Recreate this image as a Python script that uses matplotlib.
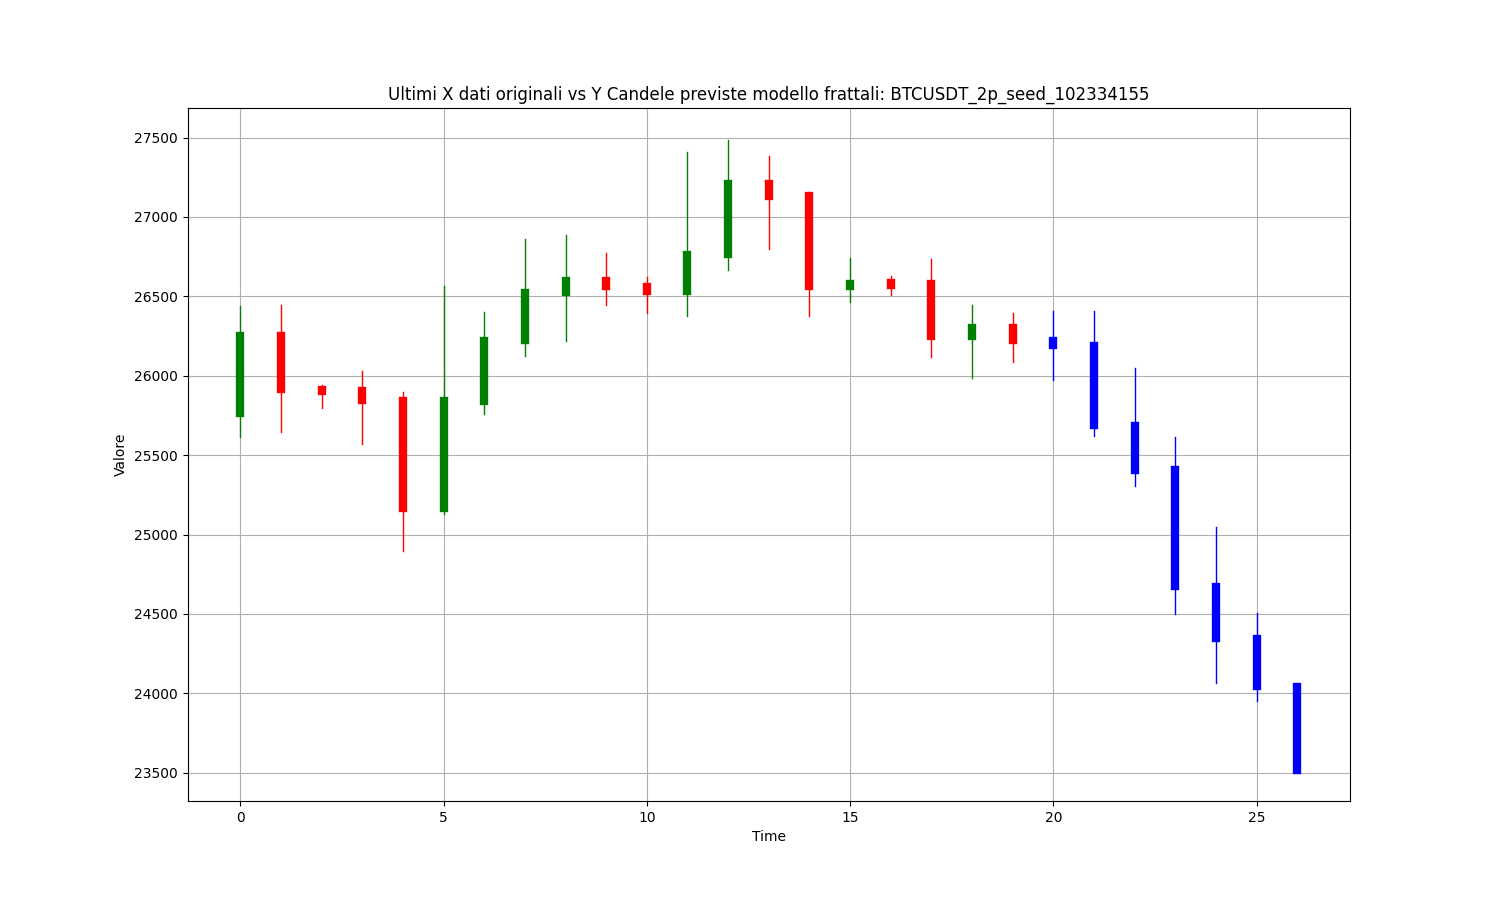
import matplotlib
matplotlib.use("Agg")
import matplotlib.pyplot as plt

# Candele originali (ultimi X dati)
orig_open = [25764, 26252, 25912, 25901, 25844, 25166, 25838, 26224, 26526, 26598,
             26561, 26533, 26764, 27209, 27130, 26568, 26584, 26575, 26249, 26302]
orig_close = [26252, 25915, 25903, 25846, 25166, 25838, 26220, 26523, 26598, 26564,
              26533, 26762, 27209, 27129, 26568, 26579, 26572, 26249, 26302, 26224]
orig_high = [26438, 26444, 25940, 26028, 25896, 26564, 26400, 26862, 26885, 26772,
             26620, 27408, 27488, 27383, 27156, 26740, 26627, 26734, 26444, 26394]
orig_low = [25616, 25647, 25799, 25572, 24898, 25131, 25759, 26124, 26221, 26448,
            26397, 26378, 26666, 26800, 26378, 26467, 26511, 26118, 25988, 26089]

# Candele previste (Y)
pred_open = [26220, 26189, 25685, 25408, 24670, 24343, 24040]
pred_close = [26192, 25688, 25409, 24674, 24346, 24046, 23520]
pred_high = [26406, 26406, 26047, 25612, 25045, 24503, 24040]
pred_low = [25973, 25620, 25305, 24501, 24066, 23953, 23520]

plt.figure(figsize=(15, 9), dpi=100)

for i in range(len(orig_open)):
    color = 'green' if orig_close[i] >= orig_open[i] else 'red'
    plt.plot([i, i], [orig_low[i], orig_high[i]], color=color, linewidth=1)
    plt.plot([i, i], [orig_open[i], orig_close[i]], color=color, linewidth=6)

start = len(orig_open)
for j in range(len(pred_open)):
    x = start + j
    plt.plot([x, x], [pred_low[j], pred_high[j]], color='blue', linewidth=1)
    plt.plot([x, x], [pred_open[j], pred_close[j]], color='blue', linewidth=6)

plt.title('Ultimi X dati originali vs Y Candele previste modello frattali: BTCUSDT_2p_seed_102334155')
plt.xlabel('Time')
plt.ylabel('Valore')
plt.grid(True)

plt.savefig('out.png')
